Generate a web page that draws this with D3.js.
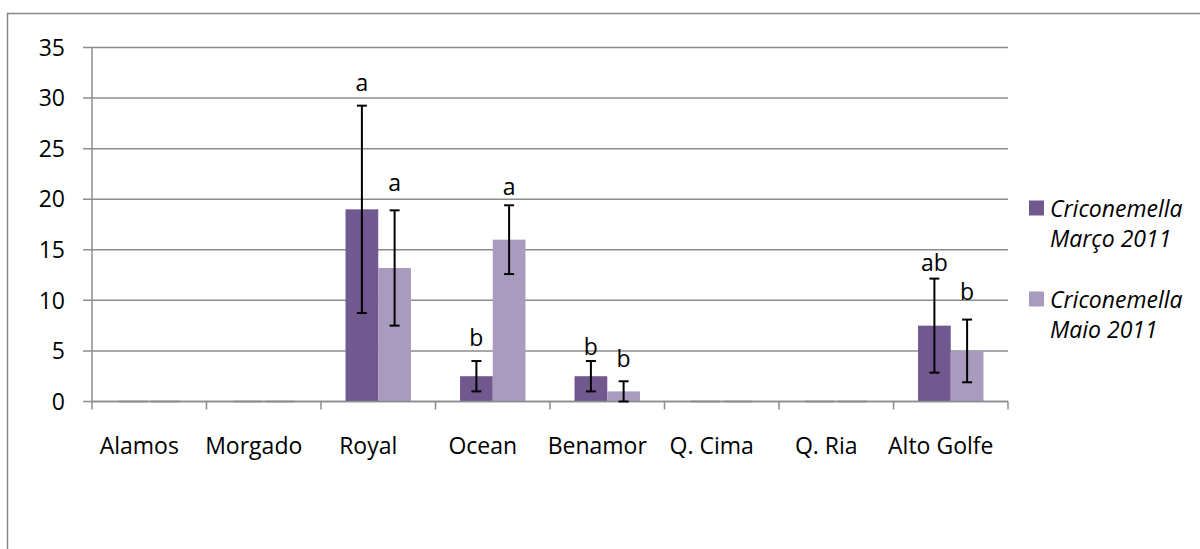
<!DOCTYPE html>
<html><head><meta charset="utf-8">
<script src="https://cdn.jsdelivr.net/npm/d3@7"></script>
<style>html,body{margin:0;padding:0;background:#fff;}svg{display:block;}</style>
</head><body>
<svg id="chart" width="1200" height="549"></svg>
<script>
const categories = ["Alamos","Morgado","Royal","Ocean","Benamor","Q. Cima","Q. Ria","Alto Golfe"];
const seriesNames = [["Criconemella","Março 2011"],["Criconemella","Maio 2011"]];
const marco = [0,0,19,2.5,2.5,0,0,7.5];
const maio  = [0,0,13.2,16,1,0,0,5];
const marcoErr = [0,0,10.25,1.5,1.5,0,0,4.65];
const maioErr  = [0,0,5.7,3.4,1,0,0,3.1];
const marcoLetters = ["","","a","b","b","","","ab"];
const maioLetters  = ["","","a","a","b","","","b"];
const marcoLetterY = [0,0,31.5,6.3,5.4,0,0,13.7];
const maioLetterY  = [0,0,21.6,21.2,4.2,0,0,10.85];
const yTicks = [0,5,10,15,20,25,30,35];
const colors = ["#71588f","#a99bbd"];

const svg = d3.select("#chart");
const font = "'Open Sans', sans-serif";
const fs = 23;

svg.append("rect").attr("x",7.5).attr("y",13.5).attr("width",1400).attr("height",800)
  .attr("fill","#fff").attr("stroke","#898989").attr("stroke-width",1.5);

const x0 = d3.scaleBand().domain(categories).range([92,1008]).paddingInner(0).paddingOuter(0);
const series = [0,1];
const x1 = d3.scaleBand().domain(series).range([0,x0.bandwidth()]).paddingInner(0).paddingOuter(0.75);
const y = d3.scaleLinear().domain([0,35]).range([401.5,47.5]);

// gridlines
svg.append("g").selectAll("line").data(yTicks).join("line")
  .attr("x1",83).attr("x2",1008).attr("y1",d=>y(d)).attr("y2",d=>y(d))
  .attr("stroke","#8c8c8c").attr("stroke-width",1.5);
// y axis line
svg.append("line").attr("x1",92).attr("x2",92).attr("y1",y(35)).attr("y2",y(0)+0.5)
  .attr("stroke","#8c8c8c").attr("stroke-width",1.5);
// y labels
svg.append("g").selectAll("text").data(yTicks).join("text")
  .attr("x",65).attr("y",d=>y(d)).attr("dy","0.36em").attr("text-anchor","end")
  .attr("font-family",font).attr("font-size",fs).attr("fill","#000").text(d=>d);

// bars
const data = [marco, maio];
const errs = [marcoErr, maioErr];
const letters = [marcoLetters, maioLetters];
const letterY = [marcoLetterY, maioLetterY];
series.forEach(s=>{
  const g = svg.append("g");
  g.selectAll("rect").data(categories).join("rect")
    .attr("x",c=>x0(c)+x1(s)).attr("width",x1.bandwidth())
    .attr("y",(c,i)=>y(data[s][i])).attr("height",(c,i)=>y(0)-y(data[s][i]))
    .attr("fill",colors[s]);
  // zero bars dash
  g.selectAll("line.z").data(categories.filter((c,i)=>data[s][i]===0)).join("line")
    .attr("x1",c=>x0(c)+x1(s)+2).attr("x2",c=>x0(c)+x1(s)+x1.bandwidth()-2)
    .attr("y1",y(0)).attr("y2",y(0)).attr("stroke","#6a6a6a").attr("stroke-width",1.5);
});

// x axis ticks
const bounds = categories.map(c=>x0(c)).concat([1008]);
svg.append("g").selectAll("line").data(bounds).join("line")
  .attr("x1",d=>d).attr("x2",d=>d).attr("y1",y(0)).attr("y2",y(0)+8)
  .attr("stroke","#8c8c8c").attr("stroke-width",1.5);
svg.append("line").attr("x1",92).attr("x2",1008).attr("y1",y(0)).attr("y2",y(0))
  .attr("stroke","#8c8c8c").attr("stroke-width",1.5);

// error bars & letters
series.forEach(s=>{
  const g = svg.append("g");
  categories.forEach((c,i)=>{
    if (data[s][i]===0) return;
    const cx = x0(c)+x1(s)+x1.bandwidth()/2;
    const hi = y(data[s][i]+errs[s][i]);
    const lo = y(Math.max(0,data[s][i]-errs[s][i]));
    g.append("line").attr("x1",cx).attr("x2",cx).attr("y1",hi).attr("y2",lo).attr("stroke","#000").attr("stroke-width",2);
    [hi,lo].forEach(yy=>g.append("line").attr("x1",cx-5).attr("x2",cx+5).attr("y1",yy).attr("y2",yy).attr("stroke","#000").attr("stroke-width",2));
    if (letters[s][i]) {
      g.append("text").attr("x",cx).attr("y",y(letterY[s][i])).attr("dy","0.36em")
        .attr("text-anchor","middle").attr("font-family",font).attr("font-size",fs)
        .attr("fill","#000").text(letters[s][i]);
    }
  });
});

// category labels
svg.append("g").selectAll("text").data(categories).join("text")
  .attr("x",c=>x0(c)+x0.bandwidth()/2-10).attr("y",453.5).attr("text-anchor","middle")
  .attr("font-family",font).attr("font-size",fs).attr("fill","#000").text(c=>c);

// legend
const leg = svg.append("g");
seriesNames.forEach((nm,s)=>{
  const top = 200.5 + s*91;
  leg.append("rect").attr("x",1029).attr("y",top).attr("width",15).attr("height",15).attr("fill",colors[s]);
  nm.forEach((line,k)=>{
    leg.append("text").attr("x",1050).attr("y",top+16+k*30)
      .attr("font-family",font).attr("font-size",fs).attr("font-style","italic")
      .attr("fill","#000").text(line);
  });
});
</script>
</body></html>
